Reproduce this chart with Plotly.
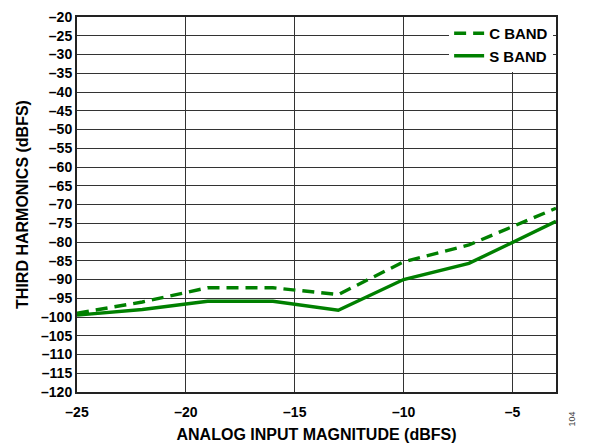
import plotly.graph_objects as go

x_vals = [-25, -22, -19, -16, -13, -10, -7, -3]
c_band = [-99, -96, -92.2, -92.2, -94, -85.3, -80.8, -71]
s_band = [-99.5, -98, -95.8, -95.8, -98.2, -90, -85.7, -74.5]

x_ticks = [-25, -20, -15, -10, -5]
y_ticks = list(range(-120, -15, 5))

green = "#008000"
font = "Liberation Sans, Arial, sans-serif"

fig = go.Figure()
fig.add_trace(go.Scatter(x=x_vals, y=c_band, mode="lines", name="<b>C BAND</b>",
                         line=dict(color=green, width=3.4, dash="12px,7px")))
fig.add_trace(go.Scatter(x=x_vals, y=s_band, mode="lines", name="<b>S BAND</b>",
                         line=dict(color=green, width=3.4)))

axis_common = dict(showgrid=True, gridcolor="#333333", gridwidth=1,
                   showline=True, linecolor="#222222", linewidth=2, mirror=True,
                   zeroline=False, ticks="", automargin=False,
                   ticklabeloverflow="allow",
                   tickfont=dict(family=font, size=14, color="black"))

fig.update_xaxes(range=[-25, -3], tickvals=x_ticks,
                 ticktext=[f"<b>–{abs(v)}</b>" for v in x_ticks],
                 ticklabelstandoff=6,
                 title=dict(text="<b>ANALOG INPUT MAGNITUDE (dBFS)</b>", standoff=10,
                            font=dict(family=font, size=16, color="black")),
                 **axis_common)
fig.update_yaxes(range=[-120, -20], tickvals=y_ticks,
                 ticktext=[f"<b>–{abs(v)}</b>" for v in y_ticks],
                 title=dict(text="<b>THIRD HARMONICS (dBFS)</b>", standoff=8,
                            font=dict(family=font, size=16, color="black")),
                 **axis_common)

# page body has an 8px margin, so the figure is drawn 8px smaller
fig.update_layout(
    width=584, height=438,
    margin=dict(l=69, r=36, t=9, b=54),
    plot_bgcolor="white", paper_bgcolor="white",
    font=dict(family=font, color="black"),
    legend=dict(x=0.994, y=1.0, xanchor="right", yanchor="top",
                bgcolor="white", borderwidth=0,
                font=dict(family=font, size=15, color="black"),
                itemwidth=30, tracegroupgap=0),
)

fig.add_annotation(text="104", x=1.0, y=0.0, xref="paper", yref="paper",
                   xshift=22, yshift=-37, textangle=-90, showarrow=False,
                   font=dict(family=font, size=9, color="#444444"))

fig.write_html("out.html")
